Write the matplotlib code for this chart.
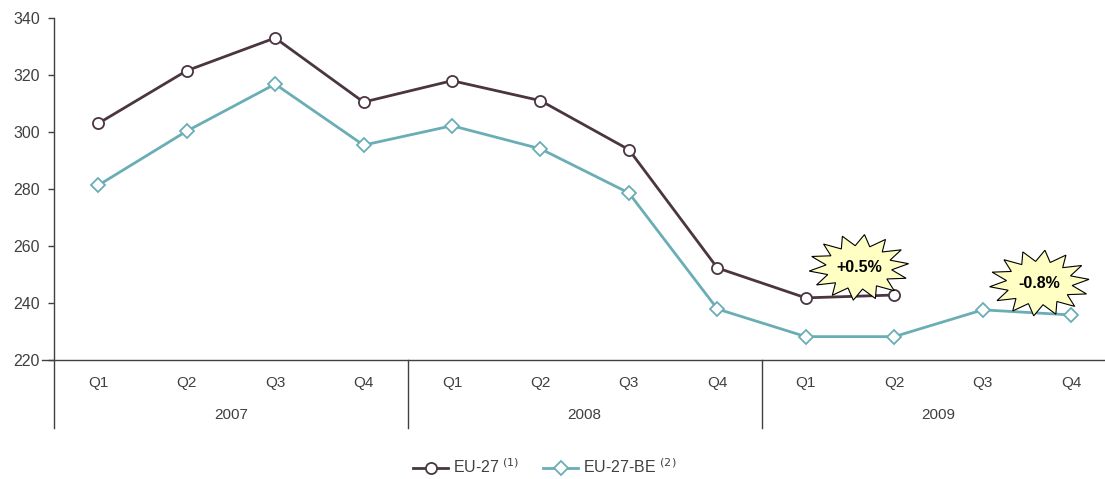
import numpy as np
import matplotlib.pyplot as plt
from matplotlib.patches import Polygon
from matplotlib.lines import Line2D

quarters = ["Q1", "Q2", "Q3", "Q4"] * 3
years = ["2007", "2008", "2009"]
eu27 = [303, 321.5, 333, 310.5, 318, 311, 293.8, 252.3, 241.8, 242.8]
eu27_be = [281.3, 300.3, 316.8, 295.4, 302.2, 294.1, 278.6, 237.9, 228.2, 228.2, 237.6, 235.8]
bursts = [("+0.5%", 8.6, 252.5), ("-0.8%", 10.64, 247.0)]

plt.rcParams['font.family'] = ['Liberation Sans', 'DejaVu Sans']
txt = '#404040'
c_eu = '#4a3540'
c_be = '#6aaeb5'

fig = plt.figure(figsize=(11.05, 4.79), dpi=100)
ax = fig.add_axes([54 / 1105, 1 - 360 / 479, 1 - 54 / 1105, (360 - 18) / 479])

x = np.arange(12)
ax.plot(x[:len(eu27)], eu27, color=c_eu, lw=2, marker='o', ms=8,
        mfc='white', mec=c_eu, mew=1.3, label='EU-27$^{\\ (1)}$', zorder=4)
ax.plot(x, eu27_be, color=c_be, lw=2, marker='D', ms=7.5,
        mfc='white', mec=c_be, mew=1.3, label='EU-27-BE $^{(2)}$', zorder=3)

ax.set_xlim(-0.5, -0.5 + (1105 - 54) / 88.45)
ax.set_ylim(220, 340)
ax.set_yticks(range(220, 341, 20))
ax.tick_params(axis='y', length=4, width=1, color='#404040', labelsize=11.5,
               labelcolor=txt, pad=6)
ax.set_xticks([])
for s in ax.spines.values():
    s.set_visible(False)

# axes lines drawn by hand so they can run into the category area
line_kw = dict(color='#404040', lw=1, clip_on=False, transform=ax.transAxes)
ax.add_line(Line2D([0, 0], [1, -68 / 342], **line_kw))
ax.add_line(Line2D([-12 / 1051, 1], [0, 0], **line_kw))
for sep in [3.5, 7.5]:
    ax.add_line(Line2D([sep, sep], [220, 220 - 68 / 2.85], color='#404040',
                       lw=1, clip_on=False))

for i, q in enumerate(quarters):
    ax.text(i, 220 - 23 / 2.85, q, ha='center', va='center', fontsize=11,
            color=txt)
for j, yr in enumerate(years):
    ax.text(4 * j + 1.5, 220 - 55 / 2.85, yr, ha='center', va='center',
            fontsize=11, color=txt)

# starburst call-outs
n = 14
ang = np.linspace(0, 2 * np.pi, 2 * n, endpoint=False) + np.pi / (2 * n)
rad = np.where(np.arange(2 * n) % 2 == 0, 1.0, 0.66)
for label, bx, by in bursts:
    rx, ry = 50 / 88.45, 33 / 2.85
    pts = np.column_stack([bx + rx * rad * np.cos(ang), by + ry * rad * np.sin(ang)])
    ax.add_patch(Polygon(pts, closed=True, fc='#ffffc4', ec='black', lw=0.8,
                         zorder=5))
    ax.text(bx, by, label, ha='center', va='center', fontsize=11.5,
            fontweight='bold', color='black', zorder=6)

fig.legend(loc='center', bbox_to_anchor=(545 / 1105, 1 - 467 / 479), ncol=2,
           frameon=False, fontsize=11.5, labelcolor=txt, handlelength=2.2,
           columnspacing=1.5, handletextpad=0.3)

fig.savefig('out.png', dpi=100)
